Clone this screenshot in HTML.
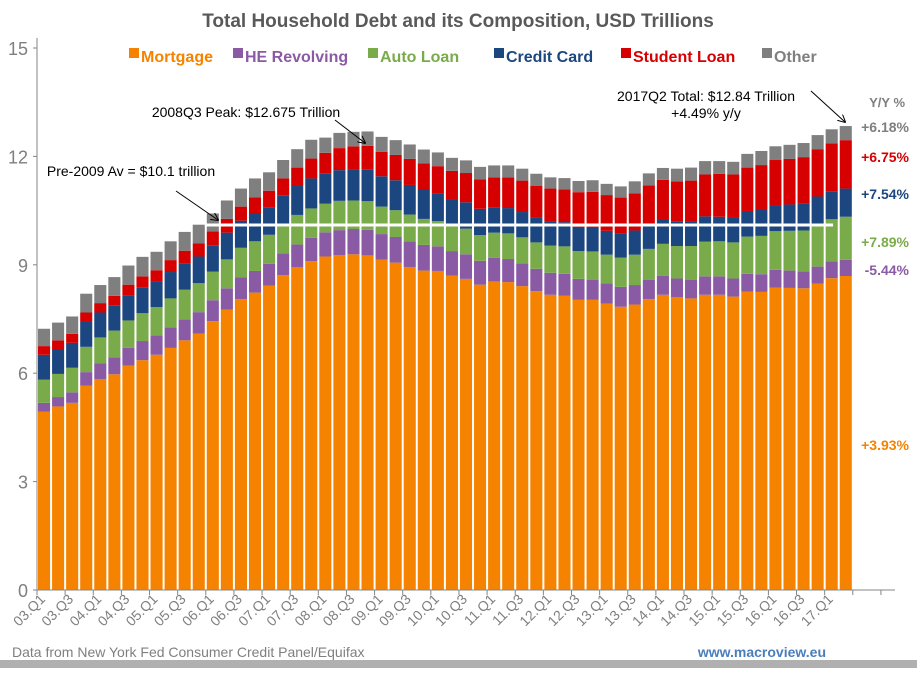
<!DOCTYPE html>
<html><head><meta charset="utf-8"><style>
body{margin:0;background:#fff;font-family:"Liberation Sans",sans-serif}
svg text{font-family:"Liberation Sans",sans-serif}
</style></head><body>
<svg id="c" width="917" height="668" xmlns="http://www.w3.org/2000/svg">
<rect x="0" y="660" width="917" height="8" fill="#b0b0b0"/>
<text x="458" y="27" text-anchor="middle" font-size="19" font-weight="bold" fill="#595959">Total Household Debt and its Composition, USD Trillions</text>
<g id="legend" font-size="16" font-weight="bold"></g>
<g id="grid"></g>
<g id="bars"></g>
<g id="axes"></g>
<g id="ann"></g>
<text x="12" y="657" font-size="14" fill="#7f7f7f">Data from New York Fed Consumer Credit Panel/Equifax</text>
<text x="826" y="657" text-anchor="end" font-size="14" font-weight="bold" fill="#4a7ebb">www.macroview.eu</text>
</svg>
<script>
const categories=[];for(let y=3;y<=17;y++){for(let q=1;q<=4;q++){if(y===17&&q>2)break;categories.push(String(y).padStart(2,'0')+'.Q'+q);}}
const mortgage=[4.94,5.08,5.18,5.66,5.84,5.97,6.21,6.36,6.51,6.70,6.91,7.10,7.44,7.76,8.05,8.23,8.42,8.71,8.93,9.10,9.23,9.27,9.29,9.26,9.14,9.06,8.94,8.84,8.83,8.70,8.61,8.45,8.54,8.52,8.41,8.27,8.17,8.15,8.03,8.03,7.93,7.84,7.90,8.05,8.17,8.10,8.07,8.17,8.17,8.12,8.26,8.25,8.37,8.36,8.35,8.48,8.63,8.69];
const heRevolving=[0.24,0.26,0.29,0.37,0.43,0.47,0.49,0.53,0.54,0.57,0.58,0.59,0.58,0.59,0.60,0.60,0.61,0.61,0.63,0.65,0.67,0.69,0.70,0.71,0.71,0.71,0.71,0.71,0.68,0.68,0.68,0.66,0.65,0.64,0.63,0.62,0.61,0.60,0.58,0.56,0.56,0.55,0.54,0.53,0.53,0.52,0.52,0.51,0.51,0.50,0.49,0.49,0.49,0.48,0.47,0.47,0.46,0.45];
const autoLoan=[0.64,0.64,0.68,0.70,0.72,0.74,0.76,0.77,0.78,0.80,0.82,0.80,0.79,0.80,0.82,0.82,0.80,0.81,0.82,0.81,0.79,0.81,0.79,0.79,0.76,0.74,0.74,0.72,0.70,0.70,0.71,0.71,0.70,0.71,0.72,0.73,0.75,0.76,0.77,0.78,0.79,0.81,0.84,0.86,0.88,0.90,0.93,0.96,0.97,1.00,1.03,1.06,1.07,1.10,1.13,1.16,1.17,1.19];
const creditCard=[0.69,0.69,0.69,0.70,0.69,0.70,0.70,0.72,0.71,0.73,0.73,0.74,0.73,0.74,0.75,0.77,0.76,0.78,0.80,0.83,0.83,0.85,0.86,0.87,0.84,0.83,0.82,0.80,0.76,0.74,0.73,0.73,0.69,0.70,0.70,0.70,0.68,0.67,0.67,0.68,0.66,0.67,0.67,0.68,0.66,0.67,0.68,0.70,0.68,0.69,0.71,0.73,0.71,0.73,0.75,0.78,0.76,0.78];
const studentLoan=[0.24,0.24,0.25,0.25,0.26,0.26,0.29,0.30,0.31,0.33,0.35,0.36,0.38,0.38,0.39,0.45,0.46,0.48,0.51,0.55,0.58,0.61,0.64,0.66,0.68,0.70,0.72,0.74,0.76,0.78,0.81,0.81,0.84,0.85,0.87,0.87,0.90,0.91,0.96,0.97,0.99,0.99,1.03,1.08,1.11,1.12,1.13,1.16,1.19,1.19,1.20,1.23,1.26,1.26,1.28,1.31,1.34,1.34];
const other=[0.48,0.49,0.48,0.52,0.50,0.52,0.53,0.54,0.51,0.52,0.52,0.52,0.50,0.51,0.50,0.52,0.51,0.51,0.51,0.52,0.42,0.42,0.40,0.40,0.41,0.41,0.40,0.38,0.38,0.36,0.35,0.35,0.33,0.33,0.33,0.33,0.31,0.31,0.31,0.32,0.31,0.31,0.33,0.33,0.33,0.35,0.36,0.37,0.35,0.35,0.38,0.39,0.38,0.39,0.39,0.39,0.39,0.39];
const seriesNames=['Mortgage','HE Revolving','Auto Loan','Credit Card','Student Loan','Other'];
const seriesColors=['#f58300','#8a5aa5','#7aab4a','#1b467f','#d60000','#7f7f7f'];
const yoyLabels=['+3.93%','-5.44%','+7.89%','+7.54%','+6.75%','+6.18%'];
const yTicks=[0,3,6,9,12,15];
const pre2009Avg=10.1;
const NS='http://www.w3.org/2000/svg';
const series=[mortgage,heRevolving,autoLoan,creditCard,studentLoan,other];
const X0=37,X1=895,SLOTS=61,Y0=590,YTOP=48;
const slot=(X1-X0)/SLOTS;
const xS=i=>X0+slot*i;
const yS=v=>Y0-(v/15)*(Y0-YTOP);
function mk(tag,attrs,parent){const e=document.createElementNS(NS,tag);for(const k in attrs)e.setAttribute(k,attrs[k]);parent.appendChild(e);return e;}
const bars=document.getElementById('bars'),axes=document.getElementById('axes'),ann=document.getElementById('ann'),legend=document.getElementById('legend');
const legX=[129,233,368,494,621,762];
seriesNames.forEach((n,i)=>{
 const r=mk('rect',{x:legX[i],y:48,width:10,height:10,fill:seriesColors[i]},legend);
 
 
 const t=mk('text',{x:legX[i]+12,y:62,fill:seriesColors[i]},legend);t.textContent=n;
 
 
});
const ax=mk('line',{x1:X0,y1:YTOP-10,x2:X0,y2:Y0,stroke:'#868686'},axes);


yTicks.forEach(v=>{
 const t=mk('text',{x:28,y:yS(v)+7,'text-anchor':'end','font-size':18,fill:'#7f7f7f'},axes);t.textContent=v;
 
 
 mk('line',{x1:X0-4,y1:yS(v),x2:X0,y2:yS(v),stroke:'#868686'},axes);
});
categories.forEach((c,i)=>{
 let base=0;
 series.forEach((s,k)=>{
  const v=s[i];
  const r=mk('rect',{x:xS(i)+1,y:yS(base+v),width:slot-2,height:yS(base)-yS(base+v),fill:seriesColors[k]},bars);
  
  
  base+=v;
 });
});
const wl=mk('line',{x1:xS(categories.indexOf('06.Q1'))-1,y1:yS(pre2009Avg),x2:xS(categories.length-2)+slot*0.6,y2:yS(pre2009Avg),stroke:'#fff','stroke-width':3},bars);


const xa=mk('line',{x1:X0,y1:Y0,x2:X1,y2:Y0,stroke:'#868686'},axes);


for(let i=0;i<=SLOTS;i+=2){mk('line',{x1:xS(i),y1:Y0,x2:xS(i),y2:Y0+5,stroke:'#868686'},axes);}
categories.forEach((c,i)=>{
 if(i%2)return;
 const tx=xS(i)+slot*0.5+2,ty=Y0+10;
 const t=mk('text',{x:tx,y:ty,'text-anchor':'end','font-size':14,fill:'#7f7f7f',transform:`rotate(-45 ${tx} ${ty})`},axes);
 t.textContent=c;
 
 
});
const yoyY=[450,275,247,199,162,132];
yoyLabels.forEach((l,k)=>{
 const t=mk('text',{x:909,y:yoyY[k],'text-anchor':'end','font-size':14,'font-weight':'bold',fill:seriesColors[k]},ann);t.textContent=l;
 
 
});
const yh=mk('text',{x:905,y:107,'text-anchor':'end','font-size':13,'font-weight':'bold',fill:'#7f7f7f'},ann);yh.textContent='Y/Y %';


function note(lines,x,y,name){const t=mk('text',{x:x,y:y,'text-anchor':'middle','font-size':14,fill:'#000'},ann);lines.forEach((l,j)=>{const s=mk('tspan',{x:x,dy:j?17:0},t);s.textContent=l;});}
note(['2008Q3 Peak: $12.675 Trillion'],246,117,'peak-annotation');
note(['Pre-2009 Av = $10.1 trillion'],131,176,'pre-2009-average-annotation');
note(['2017Q2 Total: $12.84 Trillion','+4.49% y/y'],706,101,'latest-total-annotation');
mk('defs',{},ann).innerHTML='<marker id="ah" markerWidth="8" markerHeight="8" refX="7" refY="4" orient="auto"><path d="M0,0 L8,4 L0,8" fill="none" stroke="#000"/></marker>';
mk('line',{x1:335,y1:120,x2:365,y2:143,stroke:'#000','marker-end':'url(#ah)'},ann);
mk('line',{x1:176,y1:191,x2:218,y2:220,stroke:'#000','marker-end':'url(#ah)'},ann);
mk('line',{x1:811,y1:91,x2:845,y2:122,stroke:'#000','marker-end':'url(#ah)'},ann);
</script>
</body></html>
